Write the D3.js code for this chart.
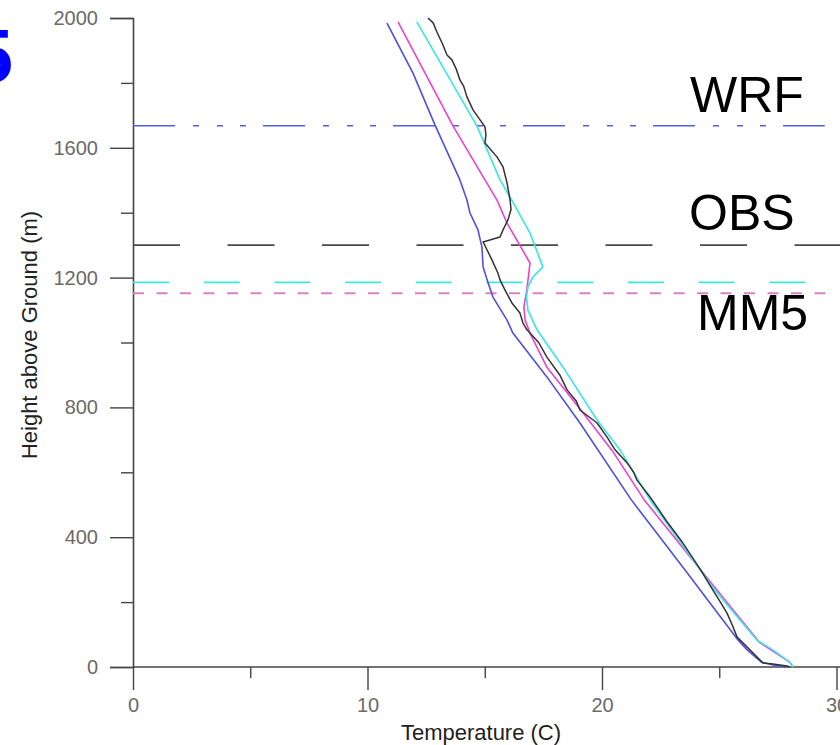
<!DOCTYPE html>
<html>
<head>
<meta charset="utf-8">
<script src="https://cdn.jsdelivr.net/npm/d3@7"></script>
<style>
  html, body { margin: 0; padding: 0; background: #fff; }
  svg { display: block; }
</style>
</head>
<body>
<svg id="chart" width="840" height="745"></svg>
<script>
// ---------------- DATA ----------------
const xMajorTicks = [0, 10, 20, 30];
const xMinorTicks = [5, 15, 25];
const yMajorTicks = [0, 400, 800, 1200, 1600, 2000];
const yMinorTicks = [200, 600, 1000, 1400, 1800];

// WRF (blue)
const wrfHeight = [0, 6, 15, 52, 83, 299, 515, 752, 894, 1029, 1069, 1140, 1193, 1233, 1294, 1347, 1399, 1439, 1501, 1670, 1830, 1984];
const wrfTemp   = [27.9, 27.3, 26.8, 26.2, 25.8, 23.54, 21.25, 19.06, 17.65, 16.2, 15.95, 15.35, 15.1, 14.93, 14.88, 14.71, 14.37, 14.24, 13.94, 12.88, 11.94, 10.83];

// MM5 (magenta)
const mm5Height = [0, 15, 77, 300, 515, 660, 792, 924, 1025, 1069, 1110, 1165, 1245, 1368, 1439, 1667, 1988];
const mm5Temp   = [28.15, 28.0, 26.7, 24.2, 21.8, 20.5, 19.1, 17.65, 16.95, 16.72, 16.67, 16.8, 16.93, 15.95, 15.52, 13.65, 11.3];

// Cyan run
const cyanHeight = [0, 15, 52, 83, 247, 515, 669, 761, 924, 1039, 1100, 1140, 1171, 1202, 1233, 1337, 1448, 1501, 1667, 1988];
const cyanTemp   = [28.15, 28.0, 27.3, 26.6, 24.7, 22.05, 20.77, 19.79, 18.34, 17.23, 16.84, 16.78, 16.84, 17.06, 17.48, 16.93, 16.08, 15.65, 14.67, 12.1];

// OBS (black)
const obsHeight = [0, 3, 9, 12, 31, 62, 92, 130, 166, 200, 237, 300, 382, 450, 524, 576, 600, 629, 670, 709, 752, 792, 820, 854, 900, 955, 1000, 1039, 1060, 1091, 1122, 1162, 1193, 1214, 1254, 1285, 1310, 1325, 1347, 1378, 1410, 1439, 1492, 1541, 1572, 1615, 1640, 1664, 1686, 1717, 1757, 1790, 1809, 1840, 1871, 1886, 1920, 1957, 1985, 2000];
const obsTemp   = [28.0, 27.89, 27.29, 26.87, 26.61, 26.18, 25.76, 25.55, 25.33, 25.05, 24.73, 24.2, 23.45, 22.75, 22.05, 21.49, 21.35, 21.07, 20.55, 20.21, 19.79, 19.06, 18.9, 18.51, 18.2, 17.65, 17.3, 16.8, 16.63, 16.5, 16.16, 15.86, 15.65, 15.56, 15.31, 15.1, 14.93, 15.65, 15.78, 15.99, 16.12, 16.08, 15.95, 15.78, 15.52, 15.01, 15.05, 15.01, 14.8, 14.5, 14.24, 14.1, 13.94, 13.8, 13.6, 13.39, 13.2, 12.96, 12.8, 12.58];

// Horizontal reference heights (m)
const refNames   = ["WRF", "OBS", "CYAN", "MM5"];
const refHeights = [1668, 1300, 1185, 1152];

// Text labels
const labelNames = ["WRF", "OBS", "MM5"];

// ---------------- DRAWING ----------------
const svg = d3.select("#chart");
const W = 840, H = 745;

const x = d3.scaleLinear().domain([0, 30]).range([133, 836.5]);
const y = d3.scaleLinear().domain([0, 2000]).range([667, 18]);

const FONT = "Liberation Sans, Arial, Helvetica, sans-serif";
const axisColor = "#444";

// Blue "5" at top-left (cut off)
svg.append("text")
  .attr("x", 13).attr("y", 82)
  .attr("text-anchor", "end")
  .attr("font-family", FONT).attr("font-weight", "bold")
  .attr("font-size", 76).attr("fill", "#0000ff")
  .text("5");

// Y axis major
const yAxisMajor = d3.axisLeft(y).tickValues(yMajorTicks).tickSize(23).tickPadding(12).tickFormat(d3.format("d"));
const gy = svg.append("g").attr("transform", `translate(${x(0)},0)`).call(yAxisMajor);
gy.select(".domain").attr("stroke", axisColor).attr("stroke-width", 1.6);
gy.selectAll(".tick line").attr("stroke", axisColor).attr("stroke-width", 1.4);
gy.selectAll(".tick text").attr("font-family", FONT).attr("font-size", 20).attr("fill", "#6a6a6a");

const yAxisMinor = d3.axisLeft(y).tickValues(yMinorTicks).tickSize(12).tickFormat("");
const gy2 = svg.append("g").attr("transform", `translate(${x(0)},0)`).call(yAxisMinor);
gy2.select(".domain").remove();
gy2.selectAll(".tick line").attr("stroke", axisColor).attr("stroke-width", 1.4);

// X axis major
const xAxisMajor = d3.axisBottom(x).tickValues(xMajorTicks).tickSize(23).tickPadding(8).tickFormat(d3.format("d"));
const gx = svg.append("g").attr("transform", `translate(0,${y(0)})`).call(xAxisMajor);
gx.select(".domain").remove();
gx.selectAll(".tick line").attr("stroke", axisColor).attr("stroke-width", 1.4);
gx.selectAll(".tick text").attr("font-family", FONT).attr("font-size", 20).attr("fill", "#6a6a6a");

const xAxisMinor = d3.axisBottom(x).tickValues(xMinorTicks).tickSize(11).tickFormat("");
const gx2 = svg.append("g").attr("transform", `translate(0,${y(0)})`).call(xAxisMinor);
gx2.select(".domain").remove();
gx2.selectAll(".tick line").attr("stroke", axisColor).attr("stroke-width", 1.4);

// x axis baseline spanning to right edge
svg.append("line")
  .attr("x1", x(0)).attr("x2", W)
  .attr("y1", y(0)).attr("y2", y(0))
  .attr("stroke", axisColor).attr("stroke-width", 1.6);

// Axis titles
svg.append("text")
  .attr("x", 481).attr("y", 740)
  .attr("text-anchor", "middle")
  .attr("font-family", FONT).attr("font-size", 22).attr("fill", "#222")
  .text("Temperature (C)");

svg.append("text")
  .attr("transform", `translate(37,335) rotate(-90)`)
  .attr("text-anchor", "middle")
  .attr("font-family", FONT).attr("font-size", 22).attr("fill", "#222")
  .text("Height above Ground (m)");

// Reference horizontal lines
const refStyle = {
  WRF:  { color: "#5a5ae8", dash: "42,18,6,18,6,17,6,17", end: 29.5, width: 1.6 },
  OBS:  { color: "#4a4a4a", dash: "47,47.5", end: 30.2, width: 1.6 },
  CYAN: { color: "#3ee8e0", dash: "36,34.7", end: 28.75, width: 1.8 },
  MM5:  { color: "#d882c8", dash: "11,12.5", end: 29.7, width: 2 }
};
refNames.forEach((n, i) => {
  const s = refStyle[n];
  svg.append("line")
    .attr("x1", x(0)).attr("x2", x(s.end))
    .attr("y1", y(refHeights[i])).attr("y2", y(refHeights[i]))
    .attr("stroke", s.color).attr("stroke-width", s.width)
    .attr("stroke-dasharray", s.dash);
});

// Profile curves
const line = d3.line().x(d => x(d[0])).y(d => y(d[1]));
function zip(t, h) { return t.map((v, i) => [v, h[i]]); }

const series = [
  { t: wrfTemp,  h: wrfHeight,  color: "#4f4fe0", w: 1.6 },
  { t: mm5Temp,  h: mm5Height,  color: "#f040d0", w: 1.6 },
  { t: cyanTemp, h: cyanHeight, color: "#40e6e6", w: 1.7 },
  { t: obsTemp,  h: obsHeight,  color: "#333333", w: 1.5 }
];
series.forEach(s => {
  svg.append("path")
    .datum(zip(s.t, s.h))
    .attr("d", line)
    .attr("fill", "none")
    .attr("stroke", s.color)
    .attr("stroke-width", s.w)
    .attr("stroke-linejoin", "round");
});

// Big labels
const labelPos = { WRF: [690, 112], OBS: [689, 230], MM5: [697, 330] };
labelNames.forEach(n => {
  svg.append("text")
    .attr("x", labelPos[n][0]).attr("y", labelPos[n][1])
    .attr("font-family", FONT).attr("font-size", 50).attr("fill", "#000")
    .text(n);
});
</script>
</body>
</html>
